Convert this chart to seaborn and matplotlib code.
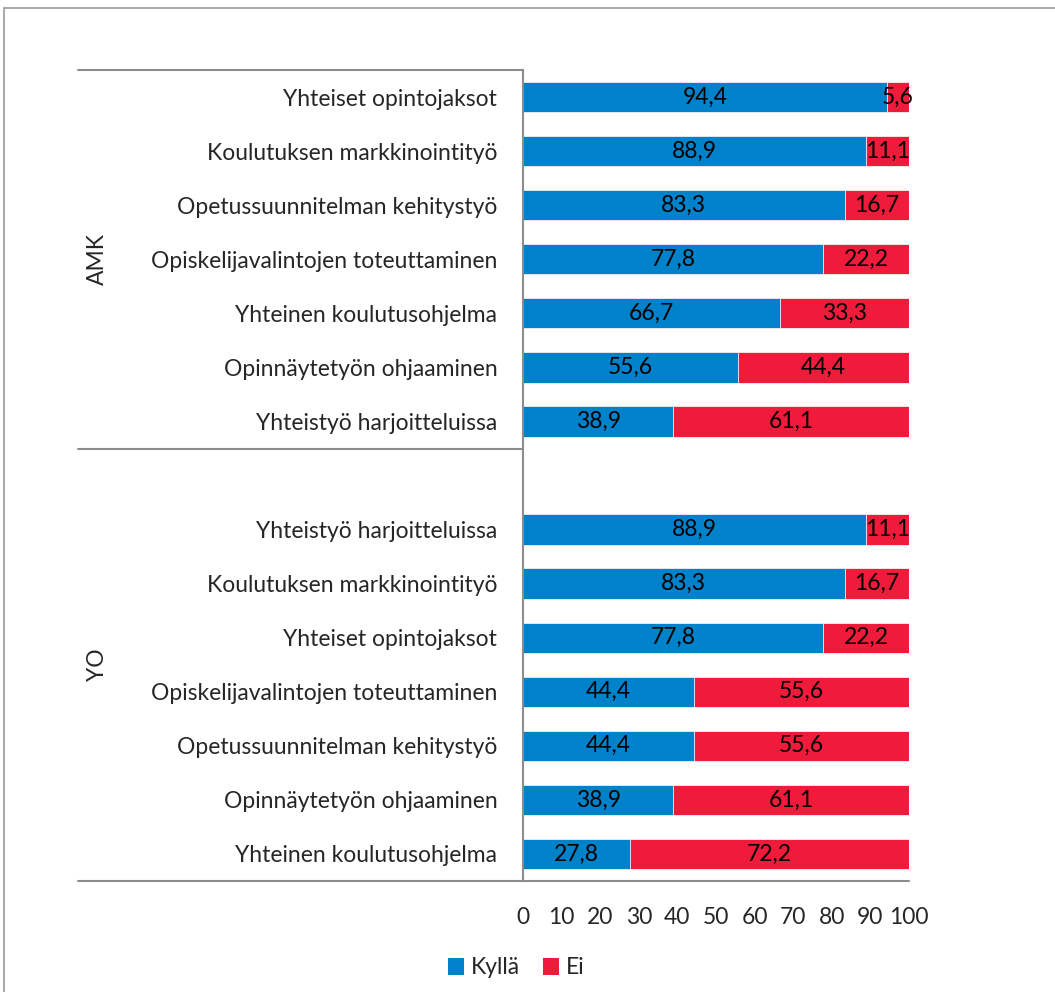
import matplotlib
matplotlib.use("Agg")
import matplotlib.pyplot as plt
import seaborn as sns
import pandas as pd
import numpy as np
from matplotlib.patches import Rectangle, Patch
from matplotlib.lines import Line2D

# ---- data ----
amk_categories = ["Yhteiset opintojaksot", "Koulutuksen markkinointityö",
                  "Opetussuunnitelman kehitystyö", "Opiskelijavalintojen toteuttaminen",
                  "Yhteinen koulutusohjelma", "Opinnäytetyön ohjaaminen",
                  "Yhteistyö harjoitteluissa"]
amk_kylla = [94.4, 88.9, 83.3, 77.8, 66.7, 55.6, 38.9]
amk_ei = [5.6, 11.1, 16.7, 22.2, 33.3, 44.4, 61.1]

yo_categories = ["Yhteistyö harjoitteluissa", "Koulutuksen markkinointityö",
                 "Yhteiset opintojaksot", "Opiskelijavalintojen toteuttaminen",
                 "Opetussuunnitelman kehitystyö", "Opinnäytetyön ohjaaminen",
                 "Yhteinen koulutusohjelma"]
yo_kylla = [88.9, 83.3, 77.8, 44.4, 44.4, 38.9, 27.8]
yo_ei = [11.1, 16.7, 22.2, 55.6, 55.6, 61.1, 72.2]

groups = ["AMK", "YO"]
series_names = ["Kyllä", "Ei"]
x_ticks = [0, 10, 20, 30, 40, 50, 60, 70, 80, 90, 100]

BLUE = "#0082CA"
RED = "#EE1B3B"
GRID = "#8C8C8C"

sns.set_theme(style="white")
plt.rcParams["font.family"] = ["Lato", "DejaVu Sans"]

# positions: AMK rows 0..6, gap at 7, YO rows 8..14
pos_amk = list(range(len(amk_categories)))
pos_yo = [len(amk_categories) + 1 + i for i in range(len(yo_categories))]
df = pd.DataFrame({
    "pos": pos_amk + pos_yo,
    "label": amk_categories + yo_categories,
    "kylla": amk_kylla + yo_kylla,
    "ei": amk_ei + yo_ei,
})
df["total"] = df["kylla"] + df["ei"]

W, H = 1055, 992
fig = plt.figure(figsize=(W / 100, H / 100), dpi=100)
ax = fig.add_axes([523 / W, 1 - 881 / H, (909 - 523) / W, (881 - 70) / H])

sns.barplot(data=df, x="total", y="pos", orient="h", native_scale=True,
            color=RED, saturation=1, width=0.56, ax=ax,
            edgecolor="#f2f2f2", linewidth=0.6)
sns.barplot(data=df, x="kylla", y="pos", orient="h", native_scale=True,
            color=BLUE, saturation=1, width=0.56, ax=ax,
            edgecolor="#f2f2f2", linewidth=0.6)

n_rows = len(amk_categories) + 1 + len(yo_categories)
ax.set_ylim(n_rows - 0.5, -0.5)
ax.set_xlim(0, 100)

fs = 16.5
for _, r in df.iterrows():
    ax.text(r["kylla"] / 2, r["pos"], f"{r['kylla']:.1f}".replace(".", ","),
            ha="center", va="center", fontsize=fs, color="black")
    ax.text(r["kylla"] + r["ei"] / 2, r["pos"], f"{r['ei']:.1f}".replace(".", ","),
            ha="center", va="center", fontsize=fs, color="black")

ax.set_yticks(df["pos"])
ax.set_yticklabels(df["label"], fontsize=fs)
ax.set_xticks(x_ticks)
ax.set_xticklabels([str(t) for t in x_ticks], fontsize=fs)
ax.tick_params(axis="y", length=0, pad=18.5)
ax.tick_params(axis="x", length=0, pad=19)
ax.set_xlabel("")
ax.set_ylabel("")

for s in ["top", "right", "bottom"]:
    ax.spines[s].set_visible(False)
ax.spines["left"].set_color(GRID)
ax.spines["left"].set_linewidth(1.5)

# group separator lines (figure coords)
def hline(x0, x1, y):
    fig.add_artist(Line2D([x0 / W, x1 / W], [1 - y / H, 1 - y / H],
                          color=GRID, lw=1.5, transform=fig.transFigure))

hline(78, 523, 70)
hline(78, 523, 449)
hline(78, 909, 881)

# group labels
fig.text(97 / W, 1 - 259 / H, groups[0], rotation=90, ha="center", va="center", fontsize=fs)
fig.text(97 / W, 1 - 665 / H, groups[1], rotation=90, ha="center", va="center", fontsize=fs)

# legend
handles = [Patch(facecolor=BLUE, edgecolor="none"), Patch(facecolor=RED, edgecolor="none")]
fig.legend(handles, series_names, loc="center", bbox_to_anchor=(516 / W, 1 - 968 / H),
           ncol=2, frameon=False, fontsize=fs, handlelength=0.7, handleheight=0.7,
           handletextpad=0.3, columnspacing=1.0)

# outer border
fig.add_artist(Rectangle((4 / W, -0.1), 1.2, 1 - 8 / H + 0.1, fill=False,
                         edgecolor="#9a9a9a", lw=1.2, transform=fig.transFigure))

fig.savefig("out.png", dpi=100)
